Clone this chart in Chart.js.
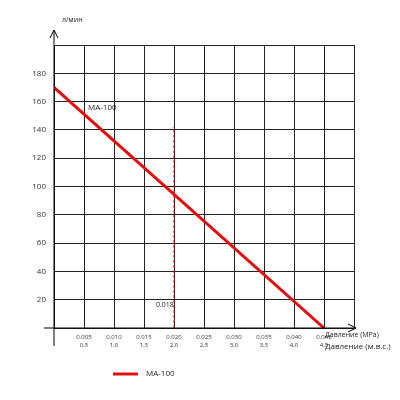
<!DOCTYPE html>
<html><head><meta charset="utf-8">
<script src="https://cdn.jsdelivr.net/npm/chart.js@4"></script>
<style>body{margin:0;background:#fff}</style>
</head><body><canvas id="c" width="400" height="400"></canvas>
<script>
const pressureMPa = [0, 0.045];
const flowMA100 = [170, 0];
const markerX = [0.02, 0.02];
const markerY = [0, 142];
const xTicksMPa = ['0.005','0.010','0.015','0.020','0.025','0.030','0.035','0.040','0.045'];
const xTicksM = ['0,5','1,0','1,5','2,0','2,5','3,0','3,5','4,0','4,5'];

const decor = {
  id: 'decor',
  afterDraw(chart) {
    const ctx = chart.ctx, a = chart.chartArea;
    const x = chart.scales.x, y = chart.scales.y;
    ctx.save();
    ctx.strokeStyle = '#000'; ctx.lineWidth = 1;
    ctx.beginPath();
    ctx.moveTo(a.left, 346); ctx.lineTo(a.left, 30);
    ctx.moveTo(a.left - 4, 38); ctx.lineTo(a.left, 30); ctx.lineTo(a.left + 4, 38);
    ctx.moveTo(44, a.bottom); ctx.lineTo(356, a.bottom);
    ctx.moveTo(348, a.bottom - 4); ctx.lineTo(356, a.bottom); ctx.lineTo(348, a.bottom + 4);
    ctx.stroke();
    ctx.fillStyle = '#222';
    ctx.font = '7px "Open Sans"';
    ctx.textBaseline = 'middle';
    ctx.fillText('л/мин', a.left + 8, 20);
    ctx.font = '8px "Open Sans"';
    ctx.fillText('MA-100', 88, 108);
    ctx.font = '7px "Open Sans"';
    ctx.fillText('0.018', x.getPixelForValue(0.02) - 18, y.getPixelForValue(16));
    ctx.font = '7px "Open Sans"';
    ctx.fillText('Давление (MPa)', 325, 335);
    ctx.font = '8px "Open Sans"';
    ctx.fillText('Давление (м.в.с.)', 325, 347);
    ctx.strokeStyle = '#e01010'; ctx.lineWidth = 3;
    ctx.beginPath(); ctx.moveTo(113, 374); ctx.lineTo(138, 374); ctx.stroke();
    ctx.font = '8px "Open Sans"';
    ctx.fillText('MA-100', 146, 374);
    ctx.restore();
  }
};

new Chart(document.getElementById('c'), {
  type: 'scatter',
  data: {
    datasets: [{
      label: 'MA-100',
      data: pressureMPa.map((p, i) => ({x: p, y: flowMA100[i]})),
      showLine: true, borderColor: '#e01010', borderWidth: 3, pointRadius: 0
    }, {
      label: 'marker',
      data: markerX.map((p, i) => ({x: p, y: markerY[i]})),
      showLine: true, borderColor: '#e01010', borderWidth: 1, borderDash: [3, 2], pointRadius: 0
    }]
  },
  options: {
    responsive: false, animation: false, devicePixelRatio: 1,
    layout: {padding: {top: 45, right: 46, left: 0, bottom: 0}},
    plugins: {legend: {display: false}, tooltip: {enabled: false}},
    scales: {
      x: {
        type: 'linear', min: 0, max: 0.05,
        afterFit: s => { s.height = 72; },
        afterBuildTicks: s => { s.ticks = Array.from({length: 11}, (_, i) => ({value: i * 0.005})); },
        grid: {color: '#222', drawTicks: false},
        border: {display: false},
        ticks: {
          autoSkip: false, maxRotation: 0, padding: 6, color: '#333', font: {size: 6, family: 'Open Sans'},
          callback: (v, i) => (i >= 1 && i <= 9) ? [xTicksMPa[i - 1], xTicksM[i - 1]] : ''
        }
      },
      y: {
        min: 0, max: 200,
        afterFit: s => { s.width = 54; },
        grid: {color: '#222', drawTicks: false},
        border: {display: false},
        ticks: {
          stepSize: 20, padding: 8, color: '#333', font: {size: 8, family: 'Open Sans'},
          callback: v => (v > 0 && v < 200) ? v : ''
        }
      }
    }
  },
  plugins: [decor]
});
</script></body></html>
